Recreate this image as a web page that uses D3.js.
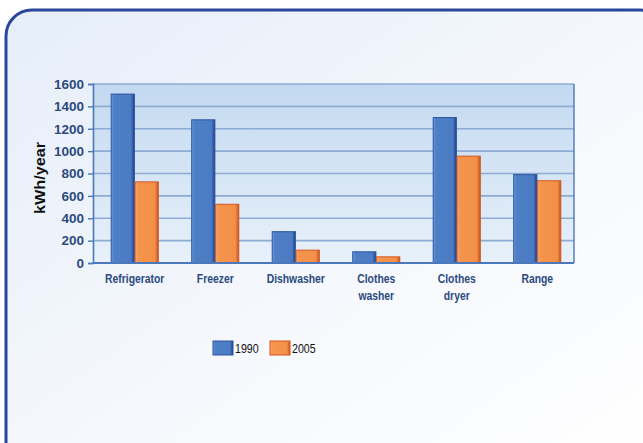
<!DOCTYPE html>
<html><head><meta charset="utf-8">
<script src="https://cdn.jsdelivr.net/npm/d3@7"></script>
<style>html,body{margin:0;padding:0;background:#fff;}svg{display:block;}</style>
</head><body>
<svg id="c" width="643" height="443"></svg>
<script>
const categories = [["Refrigerator"],["Freezer"],["Dishwasher"],["Clothes","washer"],["Clothes","dryer"],["Range"]];
const series1990 = [1510, 1280, 280, 100, 1300, 790];
const series2005 = [725, 525, 115, 55, 955, 735];
const seriesNames = ["1990","2005"];
const yTicks = [0,200,400,600,800,1000,1200,1400,1600];

const svg = d3.select("#c");
const defs = svg.append("defs");
const bg = defs.append("linearGradient").attr("id","bg").attr("x1","0").attr("y1","0").attr("x2","1").attr("y2","1");
bg.append("stop").attr("offset","0").attr("stop-color","#e6eef9");
bg.append("stop").attr("offset","0.6").attr("stop-color","#f7f9fd");
bg.append("stop").attr("offset","1").attr("stop-color","#ffffff");
const pg = defs.append("linearGradient").attr("id","pg").attr("x1","0").attr("y1","0").attr("x2","0").attr("y2","1");
pg.append("stop").attr("offset","0").attr("stop-color","#c3d9f0");
pg.append("stop").attr("offset","1").attr("stop-color","#e8f1fa");
const bb = defs.append("linearGradient").attr("id","bb").attr("x1","0").attr("x2","1");
bb.append("stop").attr("offset","0").attr("stop-color","#6d98d6");
bb.append("stop").attr("offset","0.12").attr("stop-color","#4d7fc6");
bb.append("stop").attr("offset","0.85").attr("stop-color","#4a7bc3");
bb.append("stop").attr("offset","1").attr("stop-color","#1d3f8a");
const ob = defs.append("linearGradient").attr("id","ob").attr("x1","0").attr("x2","1");
ob.append("stop").attr("offset","0").attr("stop-color","#f9ad75");
ob.append("stop").attr("offset","0.12").attr("stop-color","#f5944d");
ob.append("stop").attr("offset","0.85").attr("stop-color","#f39048");
ob.append("stop").attr("offset","1").attr("stop-color","#c94f1c");

// frame
svg.append("rect").attr("x",6).attr("y",10).attr("width",660).attr("height",460)
  .attr("rx",26).attr("fill","url(#bg)").attr("stroke","#2b479c").attr("stroke-width",3);

const m = {l:93, r:574, t:84, b:263};
const x = d3.scaleBand().domain(d3.range(categories.length)).range([94.5,577.5]).paddingInner(0.415).paddingOuter(0.2075);
const xs = d3.scaleBand().domain(seriesNames).range([0,x.bandwidth()]).paddingInner(0.03);
const y = d3.scaleLinear().domain([0,1600]).range([m.b,m.t]);

svg.append("rect").attr("x",m.l).attr("y",m.t).attr("width",m.r-m.l).attr("height",m.b-m.t).attr("fill","url(#pg)");

// grid
svg.append("g").selectAll("line").data(yTicks.filter(d=>d>0)).join("line")
  .attr("x1",m.l).attr("x2",m.r).attr("y1",d=>y(d)).attr("y2",d=>y(d))
  .attr("stroke","#8eabd3").attr("stroke-width",1.6);

// bars
const data = [series1990, series2005];
const fills = ["url(#bb)","url(#ob)"];
const strokes = ["#2c54a0","#d5551f"];
seriesNames.forEach((s,si)=>{
  svg.append("g").selectAll("rect").data(data[si]).join("rect")
    .attr("x",(d,i)=>x(i)+xs(s)).attr("width",xs.bandwidth())
    .attr("y",d=>y(d)).attr("height",d=>y(0)-y(d))
    .attr("fill",fills[si]).attr("stroke",strokes[si]).attr("stroke-width",1);
});

// axes
const ya = svg.append("g").attr("transform",`translate(${m.l},0)`)
  .call(d3.axisLeft(y).tickValues(yTicks).tickSize(5).tickPadding(4).tickFormat(d3.format("d")));
ya.select(".domain").attr("stroke","#4b78bb").attr("stroke-width",1.6);
ya.selectAll(".tick line").attr("stroke","#4b78bb").attr("stroke-width",1.4);
ya.selectAll("text").attr("fill","#2d4a7c").attr("font-family","Liberation Sans, Arial, sans-serif")
  .attr("font-weight","bold").attr("font-size",13.5);
svg.append("line").attr("x1",m.l).attr("x2",m.r).attr("y1",m.b).attr("y2",m.b).attr("stroke","#4b78bb").attr("stroke-width",1.8);
svg.append("line").attr("x1",m.r).attr("x2",m.r).attr("y1",m.t).attr("y2",m.b).attr("stroke","#4b78bb").attr("stroke-width",1.4);

// category labels (condensed)
const cg = svg.append("g").selectAll("g").data(categories).join("g")
  .attr("transform",(d,i)=>`translate(${x(i)+x.bandwidth()/2},283) scale(0.85,1)`);
cg.selectAll("text").data(d=>d).join("text")
  .attr("x",0).attr("y",(d,j)=>j*17)
  .attr("text-anchor","middle").attr("fill","#2b4a80")
  .attr("font-family","Liberation Sans, Arial, sans-serif").attr("font-weight","bold").attr("font-size",12.2)
  .text(d=>d);

// y label
svg.append("text").attr("transform","translate(45,178) rotate(-90)").attr("text-anchor","middle")
  .attr("font-family","Liberation Sans, Arial, sans-serif").attr("font-weight","bold").attr("font-size",14)
  .attr("textLength",72).attr("lengthAdjust","spacingAndGlyphs")
  .attr("fill","#111").text("kWh/year");

// legend
const lg = svg.append("g");
const lx = [213, 270];
seriesNames.forEach((s,si)=>{
  lg.append("rect").attr("x",lx[si]).attr("y",341).attr("width",20).attr("height",14)
    .attr("fill",fills[si]).attr("stroke",strokes[si]).attr("stroke-width",1);
  lg.append("text").attr("transform",`translate(${lx[si]+22},353) scale(0.85,1)`)
    .attr("font-family","Liberation Sans, Arial, sans-serif")
    .attr("font-size",12.5).attr("fill","#111").text(s);
});
</script>
</body></html>
